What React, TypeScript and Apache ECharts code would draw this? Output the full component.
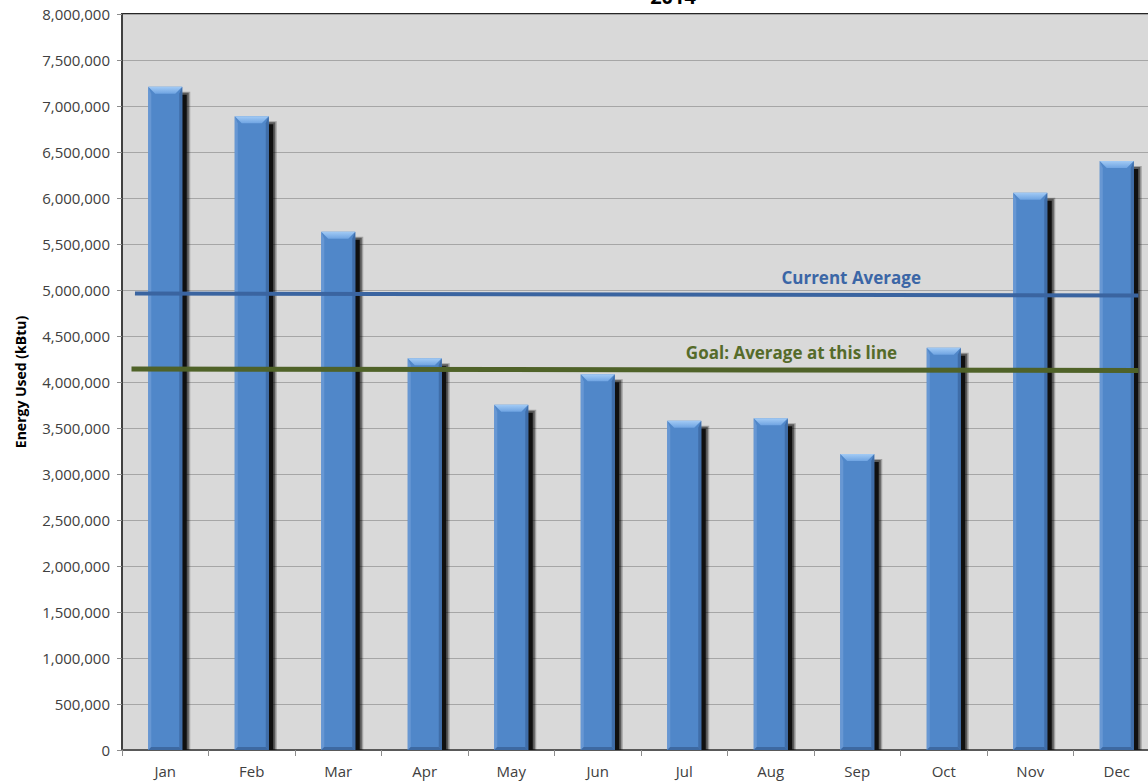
import React, { useEffect, useRef } from "react";
import * as echarts from "echarts";

// Monthly energy use, 2014 (kBtu)
const months = ["Jan", "Feb", "Mar", "Apr", "May", "Jun", "Jul", "Aug", "Sep", "Oct", "Nov", "Dec"];
const energyUsed = [7210000, 6888000, 5634000, 4257000, 3753000, 4083000, 3580000, 3605000, 3217000, 4373000, 6058000, 6402000];

// Reference lines drawn across the plot: [x position in month units, value]
const currentAverageLine = [[0.15, 4962000], [11.75, 4940000]];
const goalLine = [[0.11, 4141000], [11.75, 4125000]];
const currentAverageLabel = { x: 8.43, value: 5140000, text: "Current Average" };
const goalLabel = { x: 7.74, value: 4318000, text: "Goal: Average at this line" };

const yTicks = { min: 0, max: 8000000, step: 500000 };

const FONT = "'Open Sans', 'Liberation Sans', sans-serif";

function renderBevelBar(params: any, api: any) {
  const idx = api.value(0);
  const val = api.value(1);
  const top = api.coord([idx, val]);
  const base = api.coord([idx, 0]);
  const bw = api.size([1, 0])[0] * 0.393;
  const x0 = top[0] - bw / 2;
  const x1 = x0 + bw;
  const yT = top[1];
  const yB = base[1];
  const bev = 7;
  const side = 3;
  return {
    type: "group",
    children: [
      // soft outer shadow band on the right
      {
        type: "rect",
        shape: { x: x1 - 2, y: yT + 5, width: 10, height: yB - yT - 5 },
        style: { fill: "rgba(0,0,0,0.25)" },
      },
      {
        type: "rect",
        shape: { x: x1 - 2, y: yT + 6, width: 8.5, height: yB - yT - 6 },
        style: { fill: "rgba(0,0,0,0.45)" },
      },
      {
        type: "rect",
        shape: { x: x1 - 2, y: yT + 8, width: 6.5, height: yB - yT - 8 },
        style: { fill: "#101010" },
      },
      {
        type: "rect",
        shape: { x: x0, y: yT, width: bw, height: yB - yT },
        style: { fill: "#5087C9" },
      },
      {
        type: "polygon",
        shape: { points: [[x0, yT], [x0 + side, yT + bev], [x0 + side, yB - side], [x0, yB]] },
        style: { fill: "#6797D3" },
      },
      {
        type: "polygon",
        shape: { points: [[x1, yT], [x1 - side, yT + bev], [x1 - side, yB - side], [x1, yB]] },
        style: { fill: "#3F6DA8" },
      },
      {
        type: "polygon",
        shape: { points: [[x0, yB], [x1, yB], [x1 - side, yB - side], [x0 + side, yB - side]] },
        style: { fill: "#3D69A2" },
      },
      {
        type: "polygon",
        shape: { points: [[x0, yT], [x1, yT], [x1 - bev, yT + bev], [x0 + bev, yT + bev]] },
        style: {
          fill: new echarts.graphic.LinearGradient(0, 0, 0, 1, [
            { offset: 0, color: "#A3CBF5" },
            { offset: 1, color: "#6FA4E2" },
          ]),
        },
      },
    ],
  };
}

export default function App() {
  const ref = useRef<HTMLDivElement>(null);

  useEffect(() => {
    if (!ref.current) return;
    const chart = echarts.init(ref.current, null, { renderer: "svg" });
    chart.setOption({
      animation: false,
      backgroundColor: "#ffffff",
      grid: {
        left: 122,
        top: 14,
        right: 0,
        bottom: 32,
        show: true,
        backgroundColor: "#D9D9D9",
        borderColor: "#262626",
        borderWidth: 2,
      },
      graphic: [
        {
          type: "text",
          x: 673,
          y: 6,
          style: {
            text: "2014",
            font: `bold 20px ${FONT}`,
            fill: "#000",
            textAlign: "center",
            textVerticalAlign: "bottom",
          },
        },
      ],
      xAxis: [
        {
          type: "category",
          data: months,
          boundaryGap: true,
          axisLine: { show: true, lineStyle: { color: "#595959", width: 2 } },
          axisTick: { show: true, alignWithLabel: false, length: 6, lineStyle: { color: "#8c8c8c" } },
          axisLabel: { color: "#404040", fontSize: 15, fontFamily: FONT, margin: 13 },
          splitLine: { show: false },
        },
        {
          type: "value",
          min: 0,
          max: 12,
          show: false,
        },
      ],
      yAxis: {
        type: "value",
        min: yTicks.min,
        max: yTicks.max,
        interval: yTicks.step,
        name: "Energy Used (kBtu)",
        nameLocation: "middle",
        nameRotate: 90,
        nameGap: 95,
        nameTextStyle: { color: "#000", fontSize: 14, fontWeight: "bold", fontFamily: FONT },
        axisLine: { show: true, lineStyle: { color: "#404040", width: 2 } },
        axisTick: { show: true, length: 5, lineStyle: { color: "#8c8c8c" } },
        axisLabel: {
          color: "#404040",
          fontSize: 15,
          fontFamily: FONT,
          margin: 12,
          formatter: (v: number) => v.toLocaleString("en-US"),
        },
        splitLine: { show: true, lineStyle: { color: "#A6A6A6", width: 1 } },
      },
      series: [
        {
          type: "custom",
          name: "Energy Used",
          xAxisIndex: 0,
          renderItem: renderBevelBar,
          data: energyUsed.map((v, i) => [i, v]),
          encode: { x: 0, y: 1 },
          z: 2,
        },
        {
          type: "line",
          name: "Current Average",
          xAxisIndex: 1,
          data: currentAverageLine,
          symbol: "none",
          lineStyle: { color: "#3A64A0", width: 4 },
          z: 5,
          markPoint: {
            symbolSize: 0,
            data: [
              {
                coord: [currentAverageLabel.x, currentAverageLabel.value],
                label: {
                  show: true,
                  formatter: currentAverageLabel.text,
                  color: "#3B66A6",
                  fontSize: 17,
                  fontWeight: "bold",
                  fontFamily: FONT,
                  position: "inside",
                },
              },
            ],
          },
        },
        {
          type: "line",
          name: "Goal",
          xAxisIndex: 1,
          data: goalLine,
          symbol: "none",
          lineStyle: { color: "#4F6228", width: 5 },
          z: 5,
          markPoint: {
            symbolSize: 0,
            data: [
              {
                coord: [goalLabel.x, goalLabel.value],
                label: {
                  show: true,
                  formatter: goalLabel.text,
                  color: "#556B2A",
                  fontSize: 17,
                  fontWeight: "bold",
                  fontFamily: FONT,
                  position: "inside",
                },
              },
            ],
          },
        },
      ],
    });
    return () => chart.dispose();
  }, []);

  // The plot runs slightly past the right edge of the page, so the chart
  // canvas is wider than its clipping frame.
  return (
    <div
      style={{ position: "fixed", left: 0, top: 0, width: 1148, height: 782, overflow: "hidden" }}
    >
      <div ref={ref} style={{ width: 1160, height: 782 }} />
    </div>
  );
}
